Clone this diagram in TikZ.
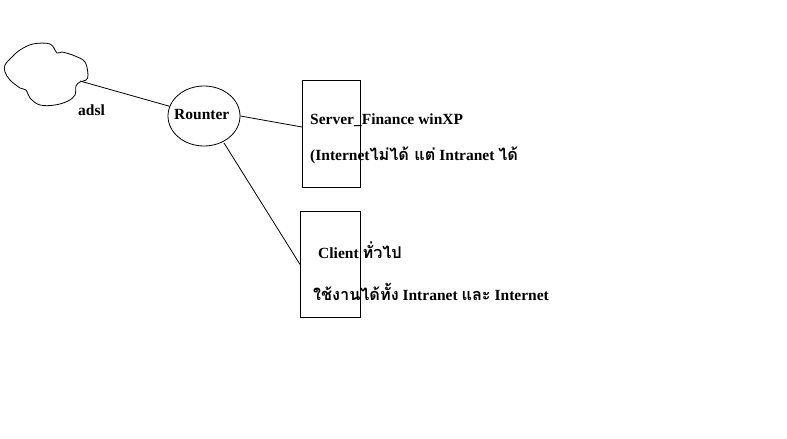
\documentclass[tikz,border=0pt]{standalone}
\usepackage{fontspec}
\usetikzlibrary{shapes.geometric}
\setmainfont{Liberation Serif}
\newfontfamily\thaifont[Script=Thai,Scale=1.05]{Loma}
\begin{document}
\begin{tikzpicture}[x=1pt,y=-1pt,
  lbl/.style={anchor=west,inner sep=0pt,font=\fontsize{15.5}{17}\selectfont\bfseries},
  box/.style={draw,thick,inner sep=0pt,anchor=north west}]
\useasboundingbox[fill=white] (0,0) rectangle (787,439);
\draw[thick] plot[smooth cycle,tension=0.6] coordinates{(5,65)(12,57)(20,50)(33,44)(50,44)(57,53)(62,52)(75,56)(85,62)(88,75)(86,80)(80,82)(76,86)(75,95)(68,101)(55,105)(40,105)(30,98)(26,90)(20,88)(10,80)(5,72)};
\coordinate (cl) at (80,81);
\node[lbl] (adsl) at (78,110) {adsl};
\node[draw,thick,ellipse,minimum width=72,minimum height=60,inner sep=0pt] (r) at (204,116) {};
\node[lbl] (rt) at (174,115) {Rounter};
\node[box,minimum width=58,minimum height=107] (b1) at (302,80) {};
\node[box,minimum width=60,minimum height=106] (b2) at (300,211) {};
\coordinate (rb) at (224,143);
\coordinate (b1in) at (302,127);
\draw[thick] (cl) -- (r);
\draw[thick] (r.east) -- (b1in);
\draw[thick] (rb) -- (b2.west);
\node[lbl] (t1) at (310,120) {Server\_Finance winXP};
\node[lbl] (t2) at (310,155) {(Internet{\thaifont ไม่ได้ แต่} Intranet {\thaifont ได้}};
\node[lbl] (t3) at (318,250) {Client {\thaifont ทั่วไป}};
\node[lbl] (t4) at (313,292) {{\thaifont ใช้งานได้ทั้ง} Intranet {\thaifont และ} Internet};
\end{tikzpicture}
\end{document}
